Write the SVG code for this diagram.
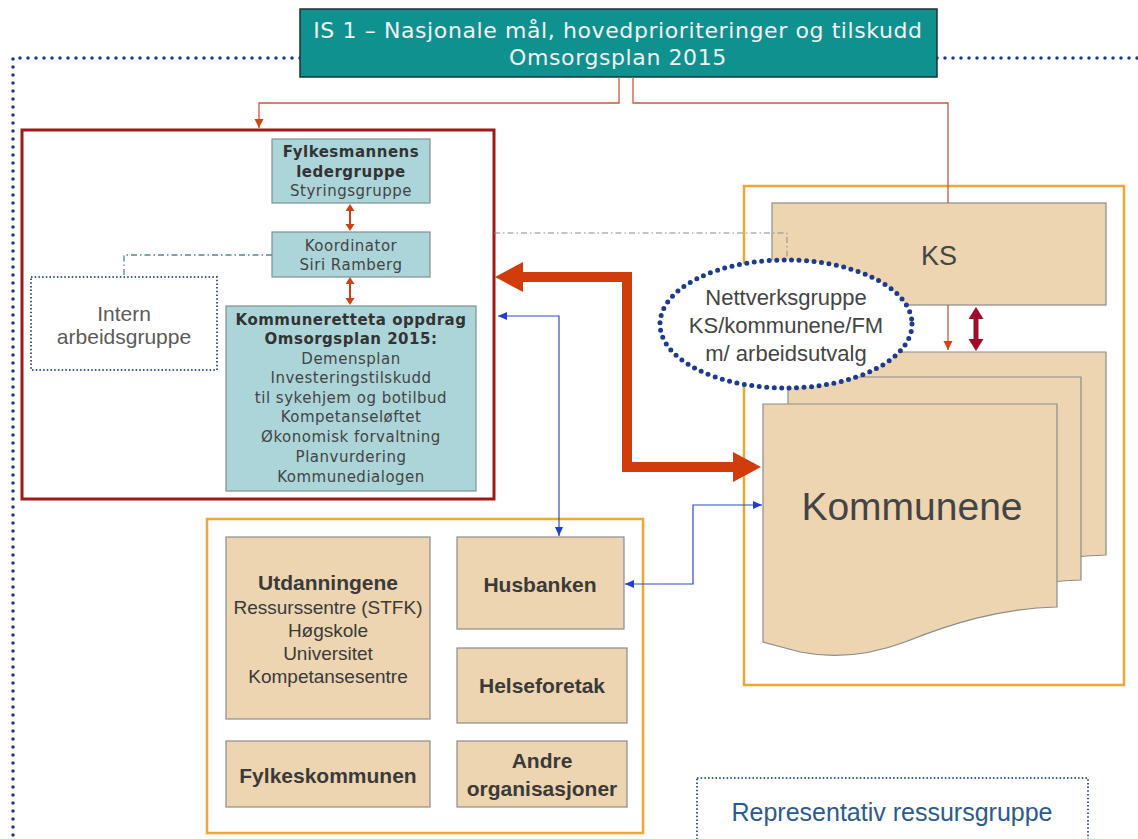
<svg xmlns="http://www.w3.org/2000/svg" width="1138" height="839" viewBox="0 0 1138 839">
<style>
.dv{font-family:"DejaVu Sans",Verdana,sans-serif;}
.ar{font-family:"Liberation Sans",Arial,sans-serif;}
.lb{fill:#acd5d9;stroke:#7f9090;stroke-width:1.2;}
.tan{fill:#ecd5b0;stroke:#8c8c8c;stroke-width:1.2;}
.orbox{fill:none;stroke:#f2a632;stroke-width:2.5;}
.lbt{font-size:15px;letter-spacing:0.5px;fill:#444;text-anchor:middle;}
.lbb{font-weight:bold;fill:#333;}
.tt{fill:#3a3a3a;text-anchor:middle;}
.oc{fill:none;stroke:#c8583a;stroke-width:1.3;}
.bc{fill:none;stroke:#2a4cc0;stroke-width:1.2;}
.dots{fill:none;stroke:#1c3b8c;stroke-linecap:round;}
</style>
<defs>
<marker id="mo" markerUnits="userSpaceOnUse" markerWidth="10" markerHeight="10" refX="9" refY="4.5" orient="auto-start-reverse"><path d="M0,0 L9,4.5 L0,9 z" fill="#d04510"/></marker>
<marker id="mb" markerUnits="userSpaceOnUse" markerWidth="10" markerHeight="10" refX="9" refY="4" orient="auto-start-reverse"><path d="M0,0 L9,4 L0,8 z" fill="#1f3fd0"/></marker>
<marker id="msm" markerUnits="userSpaceOnUse" markerWidth="10" markerHeight="10" refX="0" refY="4.5" orient="auto-start-reverse"><path d="M0,0 L7,4.5 L0,9 z" fill="#d04010"/></marker>
<marker id="mdr" markerUnits="userSpaceOnUse" markerWidth="14" markerHeight="16" refX="0" refY="7.5" orient="auto-start-reverse"><path d="M0,0 L12,7.5 L0,15 z" fill="#a00c28"/></marker>
<marker id="mbig" markerUnits="userSpaceOnUse" markerWidth="30" markerHeight="32" refX="0" refY="15" orient="auto-start-reverse"><path d="M0,0 L28,15 L0,30 z" fill="#d03c0a"/></marker>
</defs>
<rect width="1138" height="839" fill="#ffffff"/>

<!-- outer dotted frame -->
<path class="dots" d="M300,58 H13 V839 M937,58 H1138" stroke-width="3.5" stroke-dasharray="0 8"/>

<!-- orange group boxes -->
<rect class="orbox" x="744" y="186" width="380" height="499"/>
<rect class="orbox" x="207" y="519" width="436" height="314"/>

<g id="top">
<rect x="300" y="9" width="637" height="68" fill="#0f918f" stroke="#1b3535" stroke-width="1.5"/>
<text class="dv" x="618" y="38" font-size="22" letter-spacing="0.6" fill="#f2f2f2" text-anchor="middle">IS 1 – Nasjonale mål, hovedprioriteringer og tilskudd</text>
<text class="dv" x="618" y="65" font-size="22" letter-spacing="0.6" fill="#f2f2f2" text-anchor="middle">Omsorgsplan 2015</text>
</g>

<g id="fylkesmannen">
<rect x="22" y="130" width="472" height="369" fill="#ffffff" stroke="#a01818" stroke-width="3"/>
</g>

<g id="ledergruppe">
<rect class="lb" x="272" y="139" width="158" height="64"/>
<text class="dv lbt" x="351" y="157"><tspan class="lbb">Fylkesmannens</tspan></text>
<text class="dv lbt" x="351" y="177"><tspan class="lbb">ledergruppe</tspan></text>
<text class="dv lbt" x="351" y="196">Styringsgruppe</text>
</g>

<g id="koordinator">
<rect class="lb" x="272" y="232" width="158" height="45"/>
<text class="dv lbt" x="351" y="251">Koordinator</text>
<text class="dv lbt" x="351" y="270">Siri Ramberg</text>
</g>

<g id="oppdrag">
<rect class="lb" x="226" y="306" width="250" height="185"/>
<text class="dv lbt" x="351" y="325"><tspan class="lbb">Kommuneretteta oppdrag</tspan></text>
<text class="dv lbt" x="351" y="344"><tspan class="lbb">Omsorgsplan 2015:</tspan></text>
<text class="dv lbt" x="351" y="364">Demensplan</text>
<text class="dv lbt" x="351" y="383">Investeringstilskudd</text>
<text class="dv lbt" x="351" y="403">til sykehjem og botilbud</text>
<text class="dv lbt" x="351" y="422">Kompetanseløftet</text>
<text class="dv lbt" x="351" y="442">Økonomisk forvaltning</text>
<text class="dv lbt" x="351" y="462">Planvurdering</text>
<text class="dv lbt" x="351" y="482">Kommunedialogen</text>
</g>

<g id="intern">
<rect x="31" y="277" width="186" height="93" fill="#ffffff" stroke="#3d5a8f" stroke-width="2" stroke-dasharray="1.5 2.2"/>
<text class="ar" x="124" y="321" font-size="21" fill="#5a5a5a" text-anchor="middle">Intern</text>
<text class="ar" x="124" y="344" font-size="21" fill="#5a5a5a" text-anchor="middle">arbeidsgruppe</text>
</g>

<g id="ks">
<rect class="tan" x="772" y="203" width="334" height="102"/>
<text class="ar" x="939" y="265" font-size="27" fill="#444" text-anchor="middle">KS</text>
</g>

<g id="kommunene">
<path class="tan" d="M812,352 H1106 V555 C1050,556 1000,572 955,590 C915,605 880,606 850,600 L812,590 Z"/>
<path class="tan" d="M788,377 H1081 V580 C1025,581 975,597 930,615 C890,630 855,631 825,625 L788,615 Z"/>
<path class="tan" d="M763,404 H1057 V607 C1000,608 950,624 905,642 C865,657 830,658 800,652 L763,642 Z"/>
<text class="ar" x="912" y="520" font-size="39" fill="#444" text-anchor="middle">Kommunene</text>
</g>

<g id="utdanningene">
<rect class="tan" x="226" y="537" width="204" height="182"/>
<text class="ar tt" x="328" y="590" font-size="21" font-weight="bold">Utdanningene</text>
<text class="ar tt" x="328" y="614" font-size="19" fill="#555">Ressurssentre (STFK)</text>
<text class="ar tt" x="328" y="637" font-size="19" fill="#555">Høgskole</text>
<text class="ar tt" x="328" y="660" font-size="19" fill="#555">Universitet</text>
<text class="ar tt" x="328" y="683" font-size="19" fill="#555">Kompetansesentre</text>
</g>

<g id="husbanken">
<rect class="tan" x="457" y="537" width="167" height="92"/>
<text class="ar tt" x="540" y="592" font-size="21" font-weight="bold">Husbanken</text>
</g>

<g id="helseforetak">
<rect class="tan" x="457" y="648" width="170" height="75"/>
<text class="ar tt" x="542" y="693" font-size="21" font-weight="bold">Helseforetak</text>
</g>

<g id="fylkeskommunen">
<rect class="tan" x="226" y="741" width="204" height="66"/>
<text class="ar tt" x="328" y="783" font-size="21" font-weight="bold">Fylkeskommunen</text>
</g>

<g id="andre">
<rect class="tan" x="457" y="741" width="170" height="66"/>
<text class="ar tt" x="542" y="768" font-size="21" font-weight="bold">Andre</text>
<text class="ar tt" x="542" y="796" font-size="21" font-weight="bold">organisasjoner</text>
</g>

<g id="representativ">
<rect x="697" y="778" width="391" height="80" fill="#ffffff" stroke="#3d5a8f" stroke-width="2" stroke-dasharray="1.5 2.2"/>
<text class="ar" x="892" y="821" font-size="25" fill="#2c5a8c" text-anchor="middle">Representativ ressursgruppe</text>
</g>

<g id="connectors">
<path class="oc" d="M619,77 V103 H259 V128" marker-end="url(#mo)"/>
<path class="oc" d="M633,77 V103 H948 V203"/>
<path class="oc" d="M948,305 V350" marker-end="url(#mo)"/>
<path d="M350,211 V224" stroke="#d04010" stroke-width="2" marker-start="url(#msm)" marker-end="url(#msm)"/>
<path d="M350,284 V298" stroke="#d04010" stroke-width="2" marker-start="url(#msm)" marker-end="url(#msm)"/>
<path d="M976,319 V339" stroke="#a00c28" stroke-width="5" marker-start="url(#mdr)" marker-end="url(#mdr)"/>
<path d="M272,255 H124 V277" fill="none" stroke="#4a8a9a" stroke-width="1.3" stroke-dasharray="6 3 1.5 3"/>
<path d="M494,233 H787 V258" fill="none" stroke="#8a8a8a" stroke-width="1" stroke-dasharray="6 3 1.5 3"/>
<path class="bc" d="M498,316 H559 V536" marker-start="url(#mb)" marker-end="url(#mb)"/>
<path class="bc" d="M625,584 H693 V505 H762" marker-start="url(#mb)" marker-end="url(#mb)"/>
<path d="M523,277 H627 V467 H733" fill="none" stroke="#d03c0a" stroke-width="10" marker-start="url(#mbig)" marker-end="url(#mbig)"/>
</g>

<g id="nettverksgruppe">
<ellipse cx="786" cy="324" rx="126" ry="64" fill="#ffffff" stroke="#1c3b8c" stroke-width="5" stroke-dasharray="0 7.5" stroke-linecap="round"/>
<text class="ar" x="786" y="305" font-size="22" fill="#444" text-anchor="middle">Nettverksgruppe</text>
<text class="ar" x="786" y="333" font-size="22" fill="#444" text-anchor="middle">KS/kommunene/FM</text>
<text class="ar" x="786" y="361" font-size="22" fill="#444" text-anchor="middle">m/ arbeidsutvalg</text>
</g>
</svg>
